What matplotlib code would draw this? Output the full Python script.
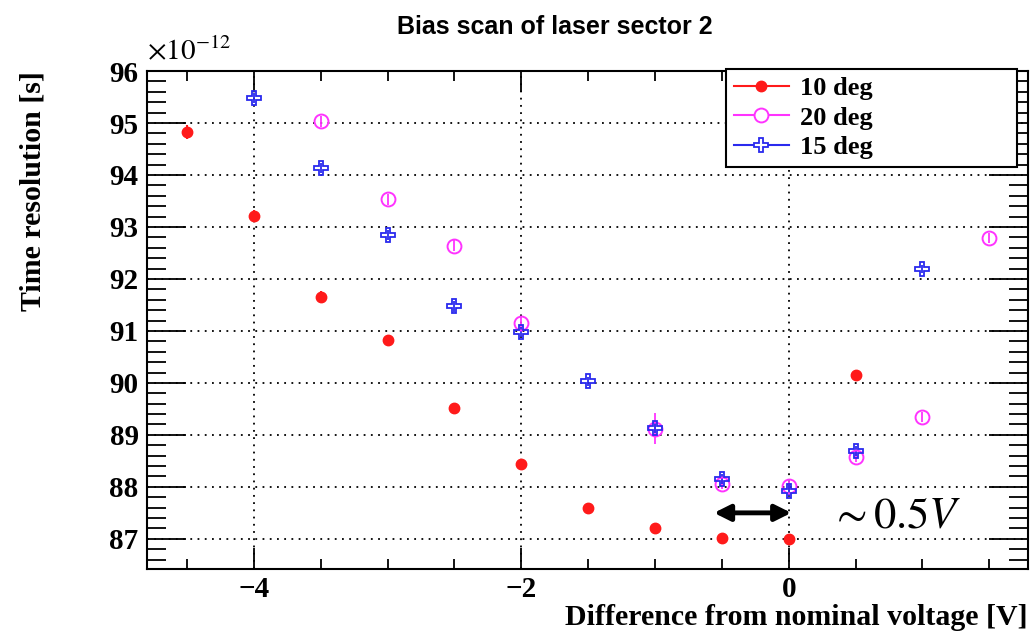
import matplotlib.pyplot as plt
from matplotlib.lines import Line2D
from matplotlib.ticker import MultipleLocator, FixedLocator

plt.rcParams['mathtext.fontset'] = 'stix'

# bias scan data (time resolution in units of 1e-12 s)
x_10 = [-4.5, -4.0, -3.5, -3.0, -2.5, -2.0, -1.5, -1.0, -0.5, 0.0, 0.5]
y_10 = [94.83, 93.22, 91.66, 90.83, 89.51, 88.44, 87.59, 87.21, 87.01, 87.00, 90.15]
e_10 = [0.14, 0.10, 0.11, 0.10, 0.10, 0.10, 0.10, 0.10, 0.09, 0.09, 0.10]

x_20 = [-3.5, -3.0, -2.5, -2.0, -1.0, -0.5, 0.0, 0.5, 1.0, 1.5]
y_20 = [95.03, 93.53, 92.64, 91.16, 89.12, 88.05, 88.02, 88.58, 89.34, 92.79]
e_20 = [0.10, 0.10, 0.10, 0.10, 0.30, 0.10, 0.10, 0.10, 0.10, 0.10]

x_15 = [-4.0, -3.5, -3.0, -2.5, -2.0, -1.5, -1.0, -0.5, 0.0, 0.5, 1.0]
y_15 = [95.48, 94.13, 92.85, 91.47, 90.98, 90.03, 89.13, 88.15, 87.93, 88.69, 92.19]
e_15 = [0.10, 0.10, 0.10, 0.10, 0.10, 0.08, 0.10, 0.10, 0.10, 0.10, 0.08]

serif = 'Liberation Serif'
red = '#ff1a1a'
magenta = '#ff33ff'
blue = '#2a2aee'

fig = plt.figure(figsize=(10.33, 6.33), dpi=100)
ax = fig.add_axes([0.1423, 0.1011, 0.8529, 0.7867])

# 10 deg
ax.errorbar(x_10, y_10, yerr=e_10, fmt='o', color=red, markersize=7.5,
            elinewidth=1.5, capsize=0)
# 20 deg
ax.errorbar(x_20, y_20, yerr=e_20, fmt='o', color=magenta, markersize=10,
            markerfacecolor='none', markeredgewidth=1.4, elinewidth=1.3, capsize=0)
# 15 deg
ax.errorbar(x_15, y_15, yerr=e_15, fmt='P', color=blue, markersize=10,
            markerfacecolor='none', markeredgewidth=1.3, elinewidth=1.3, capsize=0)

ax.set_xlim(-4.8, 1.79)
ax.set_ylim(86.42, 96)

ax.xaxis.set_major_locator(FixedLocator([-4, -2, 0]))
ax.xaxis.set_minor_locator(MultipleLocator(0.5))
ax.yaxis.set_major_locator(MultipleLocator(1))
ax.yaxis.set_minor_locator(MultipleLocator(0.2))

ax.grid(True, which='major', linestyle=(0, (1, 3)), color='black', linewidth=1.3)

ax.tick_params(axis='both', which='both', direction='in', top=True, right=True, width=1.3)
ax.tick_params(axis='x', which='major', length=15, pad=5)
ax.tick_params(axis='x', which='minor', length=7)
ax.tick_params(axis='y', which='major', length=28, pad=6)
ax.tick_params(axis='y', which='minor', length=14)
for s in ax.spines.values():
    s.set_linewidth(1.5)

for lab in ax.get_xticklabels() + ax.get_yticklabels():
    lab.set_fontfamily(serif)
    lab.set_fontweight('bold')
    lab.set_fontsize(21)

ax.set_xlabel('Difference from nominal voltage [V]', fontfamily=serif, fontweight='bold',
              fontsize=21.5, loc='right', labelpad=1)
ax.set_ylabel('Time resolution [s]', fontfamily=serif, fontweight='bold',
              fontsize=21.5, loc='top', labelpad=45)

ax.text(0.0, 1.012, r'$\times10^{-12}$', transform=ax.transAxes, fontsize=21,
        ha='left', va='bottom')

fig.text(0.537, 0.957, 'Bias scan of laser sector 2', fontfamily='Liberation Sans',
         fontweight='bold', fontsize=18, ha='center', va='center')

# arrow showing the shift
ax.annotate('', xy=(0.04, 87.5), xytext=(-0.58, 87.5),
            arrowprops=dict(arrowstyle='<|-|>', color='black', lw=3.5, mutation_scale=24))
ax.text(0.31, 87.45, r'$\sim0.5V$', fontsize=32, ha='left', va='center')

handles = [
    Line2D([], [], color=red, marker='o', markersize=7.5, lw=1.5),
    Line2D([], [], color=magenta, marker='o', markersize=10, markerfacecolor='white',
           markeredgewidth=1.4, lw=1.5),
    Line2D([], [], color=blue, marker='P', markersize=10, markerfacecolor='white',
           markeredgewidth=1.3, lw=1.5),
]
labels = ['10 deg', '20 deg', '15 deg']
leg = ax.legend(handles, labels, loc='upper left', bbox_to_anchor=(0.657, 0.0, 0.330, 1.004),
                mode='expand', borderaxespad=0, fancybox=False, framealpha=1,
                edgecolor='black', prop={'family': serif, 'weight': 'bold', 'size': 19},
                handlelength=2.1, labelspacing=0.22, borderpad=0.3, handletextpad=0.4)
leg.get_frame().set_linewidth(1.5)

plt.savefig('out.png', dpi=100)
